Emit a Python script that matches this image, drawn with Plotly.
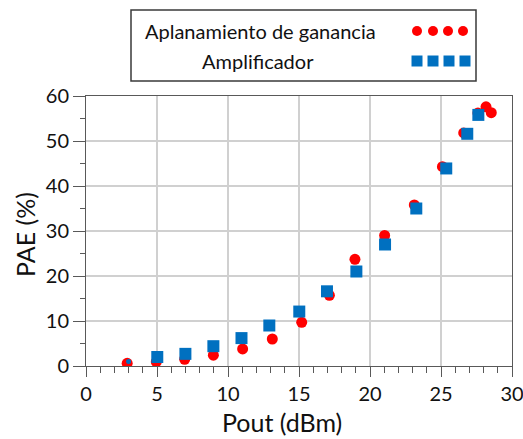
import plotly.graph_objects as go

# Output power (dBm) and PAE (%) for each configuration
pout_aplan = [2.9, 4.95, 6.95, 8.97, 11.03, 13.12, 15.19, 17.14, 18.94, 21.03, 23.12, 25.1, 26.6, 27.6, 28.17, 28.54]
pae_aplan = [0.6, 0.9, 1.5, 2.4, 3.8, 6.0, 9.7, 15.7, 23.7, 29.0, 35.8, 44.3, 51.8, 56.2, 57.6, 56.3]

pout_amp = [3.0, 5.02, 7.0, 8.97, 10.95, 12.91, 15.02, 16.97, 19.04, 21.06, 23.26, 25.37, 26.85, 27.63]
pae_amp = [1.0, 2.0, 2.7, 4.4, 6.2, 9.0, 12.1, 16.6, 21.0, 27.0, 35.0, 43.9, 51.6, 55.8]

x_ticks = [0, 5, 10, 15, 20, 25, 30]
y_ticks = [0, 10, 20, 30, 40, 50, 60]

series_names = ["Aplanamiento de ganancia", "Amplificador"]

RED = "#FF0000"
BLUE = "#0070C0"
FONT = "Lato"

W, H = 523, 439
ML, MR, MT, MB = 86, 11, 96, 73
PW, PH = W - ML - MR, H - MT - MB


def px(x):
    return (x - ML) / PW


def py(y):
    return (H - MB - y) / PH


fig = go.Figure()

fig.add_trace(go.Scatter(
    x=pout_aplan, y=pae_aplan, mode="markers", name=series_names[0],
    marker=dict(symbol="circle", size=11, color=RED, opacity=1, line=dict(width=0)),
    showlegend=False,
))
fig.add_trace(go.Scatter(
    x=pout_amp, y=pae_amp, mode="markers", name=series_names[1],
    marker=dict(symbol=["circle"] + ["square"] * (len(pout_amp) - 1),
                size=[5] + [12] * (len(pout_amp) - 1),
                color=BLUE, opacity=1, line=dict(width=0)),
    showlegend=False,
))

axis_common = dict(
    showline=True, linecolor="#595959", linewidth=1, mirror=True,
    showgrid=True, gridcolor="#d0d0d0", gridwidth=1.5,
    zeroline=False, ticks="outside", tickcolor="#595959",
    ticklabeloverflow="allow",
    tickfont=dict(family=FONT, size=20, color="#111111"),
)

fig.update_xaxes(
    range=[0, 30], tickvals=x_ticks, ticklen=10, tickwidth=1,
    minor=dict(dtick=1, ticklen=6, ticks="outside", tickcolor="#595959", showgrid=False),
    **axis_common,
)
fig.update_yaxes(
    range=[0, 60], tickvals=y_ticks, ticklen=12, tickwidth=1,
    minor=dict(dtick=5, ticklen=5, ticks="outside", tickcolor="#595959", showgrid=False),
    **axis_common,
)

shapes = []
# legend frame
shapes.append(dict(type="rect", xref="paper", yref="paper",
                   x0=px(131), x1=px(476), y0=py(81), y1=py(10),
                   line=dict(color="#3a3a3a", width=1.5), fillcolor="white"))
# legend glyphs
for cx in [417, 433, 448, 463]:
    shapes.append(dict(type="circle", xref="paper", yref="paper",
                       xsizemode="pixel", ysizemode="pixel",
                       xanchor=px(cx), yanchor=py(31),
                       x0=-5, x1=5, y0=-5, y1=5,
                       fillcolor=RED, line=dict(width=0)))
for cx in [417, 433, 449, 465]:
    shapes.append(dict(type="rect", xref="paper", yref="paper",
                       xsizemode="pixel", ysizemode="pixel",
                       xanchor=px(cx), yanchor=py(61),
                       x0=-5.5, x1=5.5, y0=-5.5, y1=5.5,
                       fillcolor=BLUE, line=dict(width=0)))

annotations = [
    dict(text=series_names[0], xref="paper", yref="paper", x=px(143), y=py(31),
         xanchor="left", yanchor="middle", showarrow=False,
         font=dict(family=FONT, size=20, color="#111111")),
    dict(text=series_names[1], xref="paper", yref="paper", x=px(200), y=py(61),
         xanchor="left", yanchor="middle", showarrow=False,
         font=dict(family=FONT, size=20, color="#111111")),
    dict(text="Pout (dBm)", xref="paper", yref="paper", x=px(282), y=py(422),
         xanchor="center", yanchor="middle", showarrow=False,
         font=dict(family=FONT, size=25, color="#111111")),
    dict(text="PAE (%)", xref="paper", yref="paper", x=px(25), y=py(234),
         xanchor="center", yanchor="middle", showarrow=False, textangle=-90,
         font=dict(family=FONT, size=25, color="#111111")),
]

fig.update_layout(
    width=W, height=H,
    margin=dict(l=ML, r=MR, t=MT, b=MB, autoexpand=False),
    paper_bgcolor="white", plot_bgcolor="white",
    shapes=shapes, annotations=annotations,
    showlegend=False,
)

fig.write_html("out.html")
